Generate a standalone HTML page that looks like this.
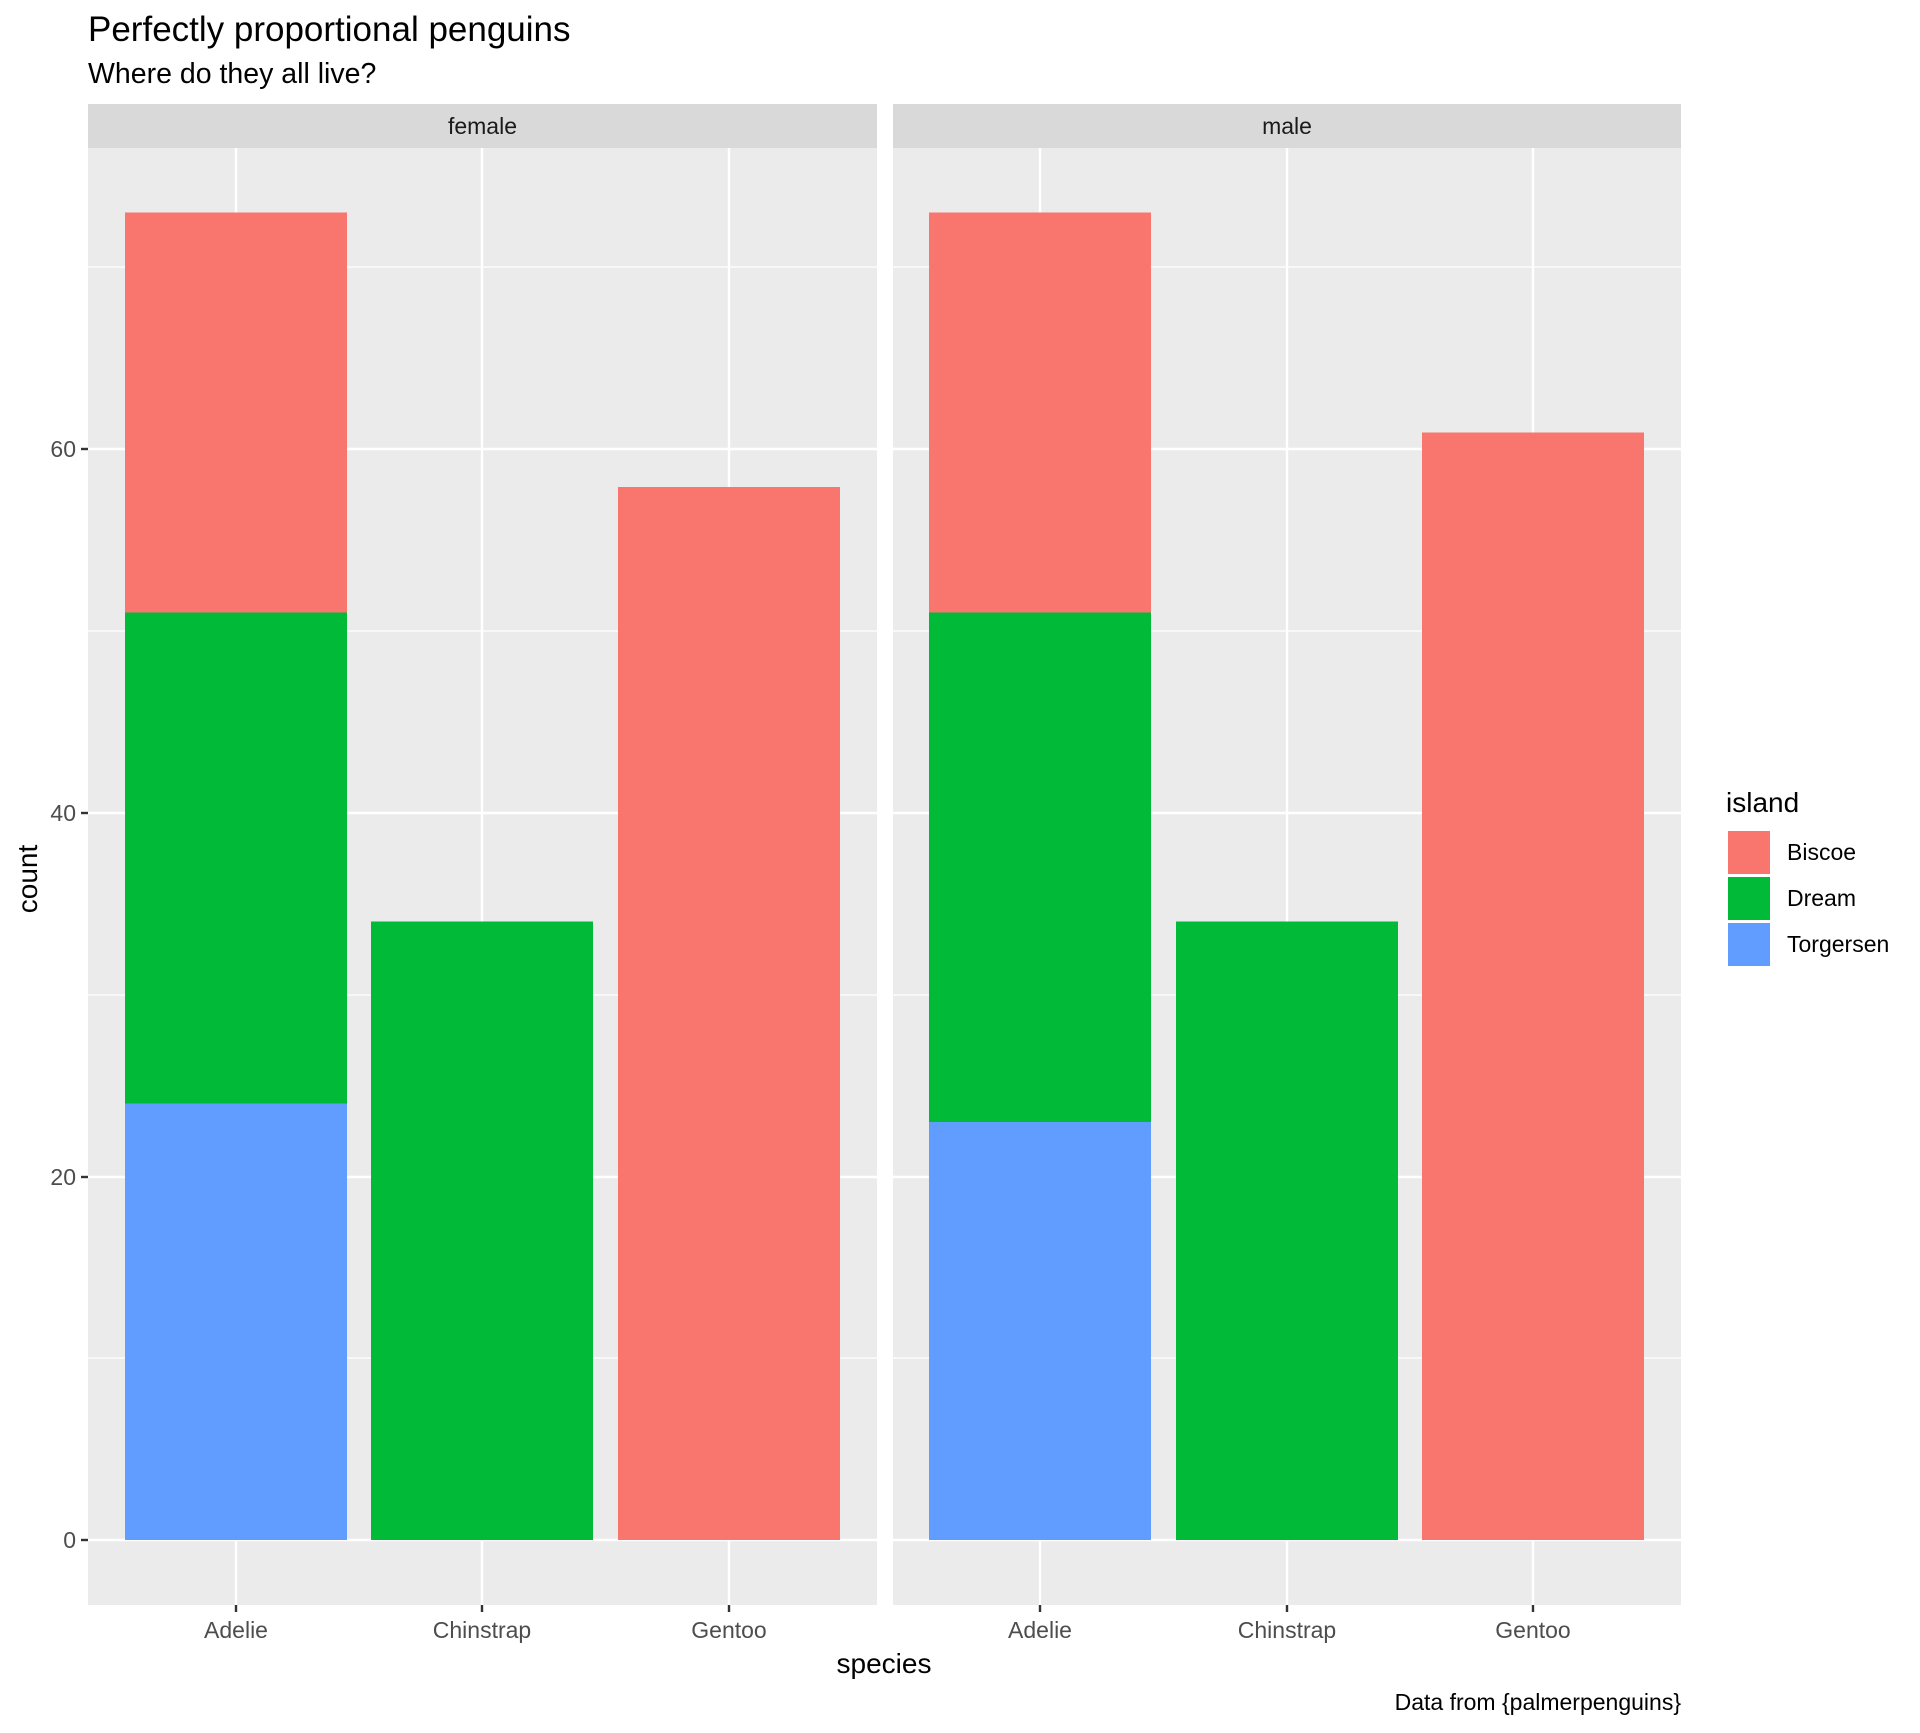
<!DOCTYPE html>
<html><head><style>body{margin:0;background:#fff}</style></head><body>
<svg width="1920" height="1728" xmlns="http://www.w3.org/2000/svg" font-family="Liberation Sans, Arial, sans-serif">
<rect width="1920" height="1728" fill="#fff"/>
<text x="88" y="41" font-size="35" fill="#000">Perfectly proportional penguins</text>
<text x="88" y="83" font-size="28.5" fill="#000">Where do they all live?</text>
<g>
<rect x="88" y="104" width="789" height="44" fill="#d9d9d9"/>
<text x="482.5" y="134" font-size="23" fill="#1a1a1a" text-anchor="middle">female</text>
<rect x="88" y="148" width="789" height="1457" fill="#ebebeb"/>
<g stroke="#fff" stroke-width="1.2">
<line x1="88" x2="877" y1="1358" y2="1358"/><line x1="88" x2="877" y1="995" y2="995"/><line x1="88" x2="877" y1="631" y2="631"/><line x1="88" x2="877" y1="267" y2="267"/>
</g>
<g stroke="#fff" stroke-width="2.4">
<line x1="88" x2="877" y1="1540" y2="1540"/><line x1="88" x2="877" y1="1177" y2="1177"/><line x1="88" x2="877" y1="813" y2="813"/><line x1="88" x2="877" y1="449" y2="449"/>
<line x1="236" x2="236" y1="148" y2="1605"/><line x1="482" x2="482" y1="148" y2="1605"/><line x1="729" x2="729" y1="148" y2="1605"/>
</g>
<rect x="125" y="1103.5" width="222" height="436.5" fill="#619cff"/>
<rect x="125" y="612.5" width="222" height="491" fill="#00ba38"/>
<rect x="125" y="212.5" width="222" height="400" fill="#f8766d"/>
<rect x="371" y="921.5" width="222" height="618.5" fill="#00ba38"/>
<rect x="618" y="487" width="222" height="1053" fill="#f8766d"/>
</g>
<g>
<rect x="893" y="104" width="788" height="44" fill="#d9d9d9"/>
<text x="1287" y="134" font-size="23" fill="#1a1a1a" text-anchor="middle">male</text>
<rect x="893" y="148" width="788" height="1457" fill="#ebebeb"/>
<g stroke="#fff" stroke-width="1.2">
<line x1="893" x2="1681" y1="1358" y2="1358"/><line x1="893" x2="1681" y1="995" y2="995"/><line x1="893" x2="1681" y1="631" y2="631"/><line x1="893" x2="1681" y1="267" y2="267"/>
</g>
<g stroke="#fff" stroke-width="2.4">
<line x1="893" x2="1681" y1="1540" y2="1540"/><line x1="893" x2="1681" y1="1177" y2="1177"/><line x1="893" x2="1681" y1="813" y2="813"/><line x1="893" x2="1681" y1="449" y2="449"/>
<line x1="1040" x2="1040" y1="148" y2="1605"/><line x1="1287" x2="1287" y1="148" y2="1605"/><line x1="1533" x2="1533" y1="148" y2="1605"/>
</g>
<rect x="929" y="1122" width="222" height="418" fill="#619cff"/>
<rect x="929" y="612.5" width="222" height="509.5" fill="#00ba38"/>
<rect x="929" y="212.5" width="222" height="400" fill="#f8766d"/>
<rect x="1176" y="921.5" width="222" height="618.5" fill="#00ba38"/>
<rect x="1422" y="432.5" width="222" height="1107.5" fill="#f8766d"/>
</g>
<g stroke="#333" stroke-width="2.4">
<line x1="81" x2="88" y1="1540" y2="1540"/><line x1="81" x2="88" y1="1177" y2="1177"/><line x1="81" x2="88" y1="813" y2="813"/><line x1="81" x2="88" y1="449" y2="449"/>
<line x1="236" x2="236" y1="1605" y2="1612"/><line x1="482" x2="482" y1="1605" y2="1612"/><line x1="729" x2="729" y1="1605" y2="1612"/>
<line x1="1040" x2="1040" y1="1605" y2="1612"/><line x1="1287" x2="1287" y1="1605" y2="1612"/><line x1="1533" x2="1533" y1="1605" y2="1612"/>
</g>
<g font-size="23" fill="#4d4d4d" text-anchor="end">
<text x="76" y="1548">0</text><text x="76" y="1185">20</text><text x="76" y="821">40</text><text x="76" y="457">60</text>
</g>
<g font-size="23" fill="#4d4d4d" text-anchor="middle">
<text x="236" y="1638">Adelie</text><text x="482" y="1638">Chinstrap</text><text x="729" y="1638">Gentoo</text>
<text x="1040" y="1638">Adelie</text><text x="1287" y="1638">Chinstrap</text><text x="1533" y="1638">Gentoo</text>
</g>
<text x="884" y="1673" font-size="28" text-anchor="middle" fill="#000">species</text>
<text x="0" y="0" font-size="28" text-anchor="middle" fill="#000" transform="translate(37,879) rotate(-90)">count</text>
<text x="1681" y="1710" font-size="23" text-anchor="end" fill="#000">Data from {palmerpenguins}</text>
<text x="1726" y="812" font-size="28" fill="#000">island</text>
<rect x="1728" y="831" width="42" height="43" fill="#f8766d"/>
<rect x="1728" y="877" width="42" height="43" fill="#00ba38"/>
<rect x="1728" y="923" width="42" height="43" fill="#619cff"/>
<g font-size="23" fill="#000">
<text x="1787" y="860">Biscoe</text><text x="1787" y="906">Dream</text><text x="1787" y="952">Torgersen</text>
</g>
</svg>
</body></html>
